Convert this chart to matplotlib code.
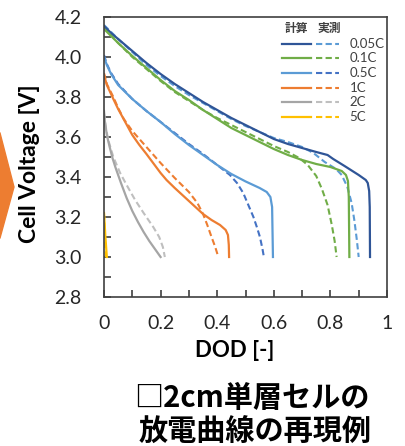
import matplotlib
matplotlib.use('Agg')
import matplotlib.pyplot as plt
from matplotlib.patches import Polygon

plt.rcParams['font.family'] = ['Lato', 'Noto Sans CJK JP', 'DejaVu Sans']

# Entladekurven: DOD [-] und Zellspannung [V]
c005_calc_dod = [0, 0.025, 0.05, 0.1, 0.15, 0.2, 0.25, 0.3, 0.35, 0.4, 0.45, 0.5, 0.55, 0.6, 0.65, 0.7,
                 0.75, 0.79, 0.81, 0.85, 0.9, 0.925, 0.932, 0.937, 0.939, 0.94]
c005_calc_v = [4.155, 4.12, 4.09, 4.03, 3.97, 3.915, 3.865, 3.82, 3.775, 3.735, 3.695, 3.66, 3.625, 3.59,
               3.565, 3.545, 3.525, 3.51, 3.49, 3.455, 3.41, 3.385, 3.37, 3.33, 3.25, 3.0]
c005_meas_dod = [0, 0.05, 0.1, 0.15, 0.2, 0.25, 0.3, 0.35, 0.4, 0.45, 0.5, 0.55, 0.6, 0.65, 0.7, 0.74,
                 0.78, 0.82, 0.84, 0.86, 0.875, 0.885, 0.893, 0.9]
c005_meas_v = [4.16, 4.09, 4.025, 3.96, 3.905, 3.855, 3.81, 3.77, 3.73, 3.69, 3.655, 3.625, 3.595, 3.575,
               3.55, 3.52, 3.475, 3.44, 3.41, 3.35, 3.27, 3.18, 3.09, 3.0]

c01_calc_dod = [0, 0.05, 0.1, 0.15, 0.2, 0.25, 0.3, 0.35, 0.4, 0.45, 0.5, 0.55, 0.6, 0.65, 0.7, 0.75,
                0.8, 0.84, 0.855, 0.862, 0.865, 0.867]
c01_calc_v = [4.14, 4.07, 4.005, 3.945, 3.885, 3.83, 3.785, 3.735, 3.69, 3.645, 3.61, 3.575, 3.54, 3.51,
              3.485, 3.465, 3.45, 3.43, 3.41, 3.38, 3.3, 3.0]
c01_meas_dod = [0, 0.05, 0.1, 0.15, 0.2, 0.25, 0.3, 0.35, 0.4, 0.45, 0.5, 0.55, 0.6, 0.65, 0.69, 0.72,
                0.75, 0.77, 0.79, 0.805, 0.815, 0.822]
c01_meas_v = [4.15, 4.07, 4.0, 3.94, 3.88, 3.825, 3.78, 3.735, 3.695, 3.66, 3.625, 3.59, 3.555, 3.525,
              3.495, 3.46, 3.405, 3.34, 3.26, 3.16, 3.08, 3.0]

c05_calc_dod = [0, 0.01, 0.025, 0.05, 0.1, 0.15, 0.2, 0.25, 0.3, 0.35, 0.4, 0.45, 0.5, 0.55, 0.575,
                0.588, 0.594, 0.597]
c05_calc_v = [4.0, 3.96, 3.915, 3.86, 3.79, 3.73, 3.675, 3.615, 3.56, 3.51, 3.46, 3.415, 3.378, 3.345,
              3.325, 3.30, 3.25, 3.0]
c05_meas_dod = [0, 0.01, 0.025, 0.05, 0.1, 0.15, 0.2, 0.25, 0.3, 0.35, 0.4, 0.445, 0.47, 0.492, 0.51,
                0.528, 0.54, 0.551, 0.56, 0.565]
c05_meas_v = [4.01, 3.965, 3.92, 3.865, 3.79, 3.73, 3.675, 3.62, 3.565, 3.515, 3.46, 3.41, 3.37, 3.32,
              3.26, 3.20, 3.15, 3.10, 3.04, 3.0]

c1_calc_dod = [0, 0.01, 0.02, 0.033, 0.05, 0.075, 0.1, 0.125, 0.15, 0.2, 0.221, 0.25, 0.3, 0.35, 0.38,
               0.41, 0.43, 0.438, 0.441, 0.442]
c1_calc_v = [3.91, 3.86, 3.83, 3.79, 3.74, 3.675, 3.61, 3.56, 3.515, 3.42, 3.385, 3.345, 3.28, 3.215,
             3.185, 3.16, 3.135, 3.11, 3.06, 3.0]
c1_meas_dod = [0, 0.01, 0.033, 0.05, 0.07, 0.1, 0.125, 0.15, 0.2, 0.25, 0.3, 0.33, 0.35, 0.365, 0.38,
               0.393, 0.404]
c1_meas_v = [3.92, 3.865, 3.80, 3.745, 3.69, 3.63, 3.59, 3.55, 3.47, 3.395, 3.325, 3.27, 3.215, 3.16,
             3.10, 3.05, 3.0]

c2_calc_dod = [0, 0.003, 0.01, 0.02, 0.03, 0.04, 0.06, 0.08, 0.1, 0.12, 0.14, 0.16, 0.18, 0.2]
c2_calc_v = [3.73, 3.68, 3.61, 3.55, 3.495, 3.45, 3.37, 3.295, 3.23, 3.175, 3.125, 3.08, 3.04, 3.0]
c2_meas_dod = [0, 0.005, 0.015, 0.033, 0.057, 0.08, 0.11, 0.14, 0.174, 0.195, 0.208, 0.215]
c2_meas_v = [3.72, 3.66, 3.585, 3.50, 3.42, 3.36, 3.285, 3.22, 3.15, 3.10, 3.05, 3.0]

c5_calc_dod = [0, 0.005, 0.01]
c5_calc_v = [3.22, 3.10, 3.0]
c5_meas_dod = [0, 0.003, 0.007]
c5_meas_v = [3.22, 3.10, 3.0]

rates = ['0.05C', '0.1C', '0.5C', '1C', '2C', '5C']
farben = ['#2F5597', '#70AD47', '#5B9BD5', '#ED7D31', '#A5A5A5', '#FFC000']
farben_mess = ['#5B9BD5', '#70AD47', '#4472C4', '#ED7D31', '#BFBFBF', '#FFC000']

calc = [(c005_calc_dod, c005_calc_v), (c01_calc_dod, c01_calc_v), (c05_calc_dod, c05_calc_v),
        (c1_calc_dod, c1_calc_v), (c2_calc_dod, c2_calc_v), (c5_calc_dod, c5_calc_v)]
meas = [(c005_meas_dod, c005_meas_v), (c01_meas_dod, c01_meas_v), (c05_meas_dod, c05_meas_v),
        (c1_meas_dod, c1_meas_v), (c2_meas_dod, c2_meas_v), (c5_meas_dod, c5_meas_v)]

fig = plt.figure(figsize=(4.05, 4.46), dpi=100)
ax = fig.add_axes([104/405, 1-297/446, 283/405, 280/446])

strich = (0, (3, 1.6))
for (xd, yd), f in zip(meas, farben_mess):
    ax.plot(xd, yd, color=f, lw=1.5, ls=strich)
for (xd, yd), f in zip(calc, farben):
    ax.plot(xd, yd, color=f, lw=1.6)

ax.set_xlim(0, 1)
ax.set_ylim(2.8, 4.2)
ax.set_xticks([i/10 for i in range(11)])
ax.set_xticklabels(['0', '', '0.2', '', '0.4', '', '0.6', '', '0.8', '', '1'])
ax.set_yticks([2.8 + i/10 for i in range(15)])
ax.set_yticklabels(['2.8', '', '3.0', '', '3.2', '', '3.4', '', '3.6', '', '3.8', '', '4.0', '', '4.2'])
ax.tick_params(direction='in', length=5, width=1.2, color='#404040', labelsize=14,
               labelcolor='#262626', top=False, right=False)
ax.tick_params(axis='y', pad=16)
ax.tick_params(axis='x', pad=13)
for s in ax.spines.values():
    s.set_color('#404040')
    s.set_linewidth(1.2)

ax.set_xlabel('DOD [-]', fontsize=16, fontweight='bold', va='center')
ax.xaxis.set_label_coords(0.463, -0.19)
ax.set_ylabel('Cell Voltage [V]', fontsize=16.5, fontweight='bold', va='center')
ax.yaxis.set_label_coords(-0.265, 0.477)

# Legende von Hand
ax.text(0.68, 0.96, '計算', transform=ax.transAxes, fontsize=8.5, fontweight='bold',
        ha='center', va='center', family=['Noto Sans CJK JP'], color='#404040')
ax.text(0.795, 0.96, '実測', transform=ax.transAxes, fontsize=8.5, fontweight='bold',
        ha='center', va='center', family=['Noto Sans CJK JP'], color='#404040')
for i, (r, f, fm) in enumerate(zip(rates, farben, farben_mess)):
    yy = 0.905 - i * 0.0523
    ax.plot([0.63, 0.73], [yy, yy], color=f, lw=1.6, transform=ax.transAxes)
    ax.plot([0.75, 0.83], [yy, yy], color=fm, lw=1.5, ls=strich, transform=ax.transAxes)
    ax.text(0.868, yy, r, transform=ax.transAxes, fontsize=9.5, va='center', ha='left', color='#404040')

# Pfeil links
pfeil = Polygon([(-0.05, 1-133/446), (0, 1-133/446), (14/405, 1-187/446), (0, 1-238/446), (-0.05, 1-238/446)],
                closed=True, transform=fig.transFigure, color='#ED7D31')
fig.patches.append(pfeil)

fig.text(252/405, 1-398/446, '□2cm単層セルの', ha='center', va='center', fontsize=21,
         fontweight='bold', family=['Noto Sans CJK JP'])
fig.text(255/405, 1-432/446, '放電曲線の再現例', ha='center', va='center', fontsize=21,
         fontweight='bold', family=['Noto Sans CJK JP'])

fig.savefig('out.png', dpi=100)
